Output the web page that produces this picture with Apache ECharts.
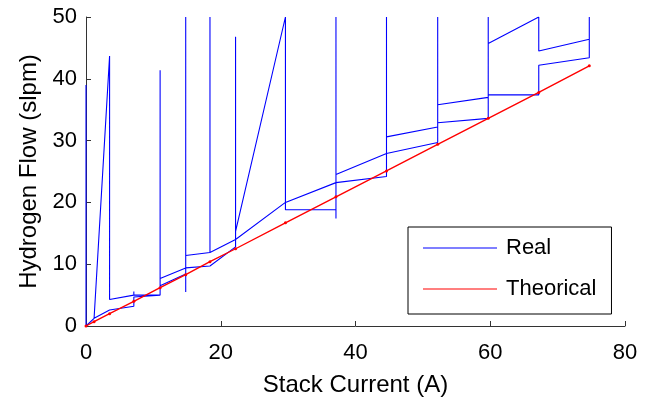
<!DOCTYPE html>
<html>
<head>
<meta charset="utf-8">
<script src="https://cdn.jsdelivr.net/npm/echarts@6/dist/echarts.min.js"></script>
<style>
  html, body { margin: 0; padding: 0; background: #fff; }
  #main { width: 651px; height: 405px; }
</style>
</head>
<body>
<div id="main"></div>
<script>
// measured path of the real flow (stack current A, hydrogen flow slpm), in time order
var realX = [0, 0, 0, 1.2, 3.5, 3.5, 7.1, 7.1, 7.1, 11, 11, 11, 14.8, 14.8, 14.8, 14.8,
  18.4, 18.4, 18.4, 22.2, 22.2, 22.2, 29.6, 29.6, 37.1, 37.1, 37.1, 44.6, 44.6, 44.6,
  52.2, 52.2, 52.2, 59.7, 59.7, 59.7, 67.2, 67.2, 74.7, 74.7, 74.7,
  67.2, 67.2, 59.7, 59.7, 52.2, 52.2, 44.6, 44.6, 37.1, 37.1, 37.1, 29.6, 29.6, 29.6,
  22.2, 22.2, 18.4, 14.8, 14.8, 11, 11, 7.1, 7.1, 3.5, 1.2, 0];
var realY = [0, 39, 0, 1.25, 43.7, 4.3, 5.0, 5.6, 5.0, 5.0, 41.4, 7.7, 9.4, 50, 5.5, 11.4,
  11.9, 50, 11.9, 14.0, 46.8, 15.3, 50, 20.0, 23.2, 50, 24.5, 27.9, 50, 30.6,
  32.2, 50, 35.8, 37.0, 50, 45.7, 50, 44.5, 46.4, 50, 43.4,
  42.2, 37.4, 37.4, 33.6, 32.9, 29.7, 27.9, 24.2, 23.2, 17.4, 18.8, 18.8, 18.5, 20.0,
  14.0, 12.8, 9.7, 9.4, 8.4, 6.5, 5.0, 4.7, 3.2, 2.6, 1.25, 0];

// theoretical flow
var theoX = [0, 1.2, 3.5, 7.1, 11, 14.8, 18.4, 22.2, 29.6, 37.1, 44.6, 52.2, 59.7, 67.2, 74.7];
var theoY = [0, 0.7, 2.0, 4.0, 6.2, 8.3, 10.4, 12.5, 16.7, 20.9, 25.1, 29.4, 33.6, 37.8, 42.1];

function zip(xs, ys) {
  var out = [];
  for (var i = 0; i < xs.length; i++) out.push([xs[i], ys[i]]);
  return out;
}

var font = 'Liberation Sans, Arial, sans-serif';
var axisCol = '#333';

var option = {
  backgroundColor: '#fff',
  animation: false,
  grid: { left: 86, right: 26, top: 17, bottom: 79 },
  legend: {
    orient: 'vertical',
    left: 408, top: 227,
    padding: [10, 15, 14, 15],
    itemGap: 19,
    itemWidth: 74, itemHeight: 14,
    borderColor: '#000', borderWidth: 1,
    backgroundColor: '#fff',
    textStyle: { fontFamily: font, fontSize: 22, color: '#000', padding: [0, 0, 0, 4] },
    data: [
      { name: 'Real', icon: 'path://M0,0 H74 V1 H0 Z' },
      { name: 'Theorical', icon: 'path://M0,0 H74 V1 H0 Z' }
    ]
  },
  xAxis: {
    type: 'value', min: 0, max: 80, interval: 20,
    name: 'Stack Current (A)', nameLocation: 'middle', nameGap: 47,
    nameTextStyle: { fontFamily: font, fontSize: 24, color: '#000' },
    axisLine: { show: true, onZero: false, lineStyle: { color: axisCol, width: 1 } },
    axisTick: { show: true, inside: true, length: 5, lineStyle: { color: axisCol } },
    axisLabel: { fontFamily: font, fontSize: 22, color: '#000', margin: 16 },
    splitLine: { show: false }
  },
  yAxis: {
    type: 'value', min: 0, max: 50, interval: 10,
    name: 'Hydrogen Flow (slpm)', nameLocation: 'middle', nameGap: 42,
    nameTextStyle: { fontFamily: font, fontSize: 24, color: '#000' },
    axisLine: { show: true, onZero: false, lineStyle: { color: axisCol, width: 1 } },
    axisTick: { show: true, inside: true, length: 5, lineStyle: { color: axisCol } },
    axisLabel: { fontFamily: font, fontSize: 22, color: '#000', margin: 9 },
    splitLine: { show: false }
  },
  series: [
    {
      name: 'Real', type: 'line', data: zip(realX, realY),
      symbol: 'none', clip: true,
      lineStyle: { color: '#0000ff', width: 1.1 }, itemStyle: { color: '#0000ff' }
    },
    {
      name: 'Theorical', type: 'line', data: zip(theoX, theoY),
      symbol: 'circle', symbolSize: 3, showSymbol: true, clip: true,
      lineStyle: { color: '#ff0000', width: 1.4 }, itemStyle: { color: '#ff0000' }
    }
  ]
};

var myChart = echarts.init(document.getElementById('main'));
myChart.setOption(option);
</script>
</body>
</html>
